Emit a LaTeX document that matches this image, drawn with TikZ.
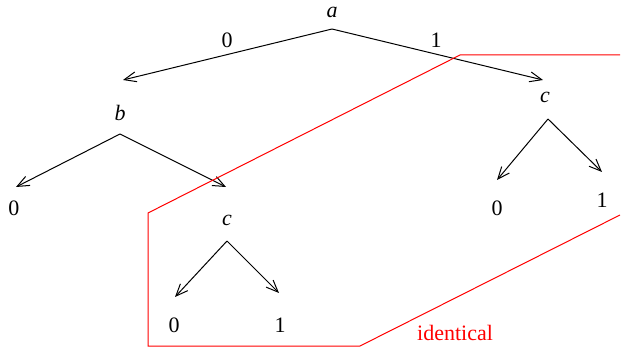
\documentclass[tikz,border=0pt]{standalone}
\usepackage{fontspec}
\setmainfont{Liberation Serif}
\usetikzlibrary{arrows.meta}

\begin{document}
\begin{tikzpicture}[x=0.5pt,y=-0.5pt,line width=0.5pt,
  every node/.style={inner sep=0pt,font=\fontsize{11}{13}\selectfont},
  edge/.style={-{Straight Barb[length=6pt,width=5pt]}}]
  \useasboundingbox (0,0) rectangle (621,347);

  % root
  \node at (332,12) (la) {\textit{a}};
  \coordinate (a) at (332,29);
  \coordinate (ab) at (123,80);
  \coordinate (ac) at (543,80);
  \node at (227,40) (e0) {0};
  \node at (436,40) (e1) {1};

  % left subtree
  \node at (120,113) (lb) {\textit{b}};
  \coordinate (b) at (120,134);
  \coordinate (b0) at (16,187);
  \coordinate (bc) at (226,187);
  \node at (14,208) (lb0) {0};

  \node at (227,220) (lc) {\textit{c}};
  \coordinate (c) at (227,241);
  \coordinate (c0) at (175,297);
  \coordinate (c1) at (279,293);
  \node at (174,325) (lc0) {0};
  \node at (280,325) (lc1) {1};

  % right subtree
  \node at (545,97) (lr) {\textit{c}};
  \coordinate (r) at (548,119);
  \coordinate (r0) at (497,180);
  \coordinate (r1) at (602,172);
  \node at (497,208) (lr0) {0};
  \node at (602,200) (lr1) {1};

  \draw[edge] (a)--(ab);
  \draw[edge] (a)--(ac);
  \draw[edge] (b)--(b0);
  \draw[edge] (b)--(bc);
  \draw[edge] (c)--(c0);
  \draw[edge] (c)--(c1);
  \draw[edge] (r)--(r0);
  \draw[edge] (r)--(r1);

  % region of identical subtrees
  \draw[red] (620,55) -- (460,55) -- (148,213) -- (148,346)
    -- (360,346) -- (620,215);
  \node[red] at (455,333) (id) {identical};

\end{tikzpicture}
\end{document}
